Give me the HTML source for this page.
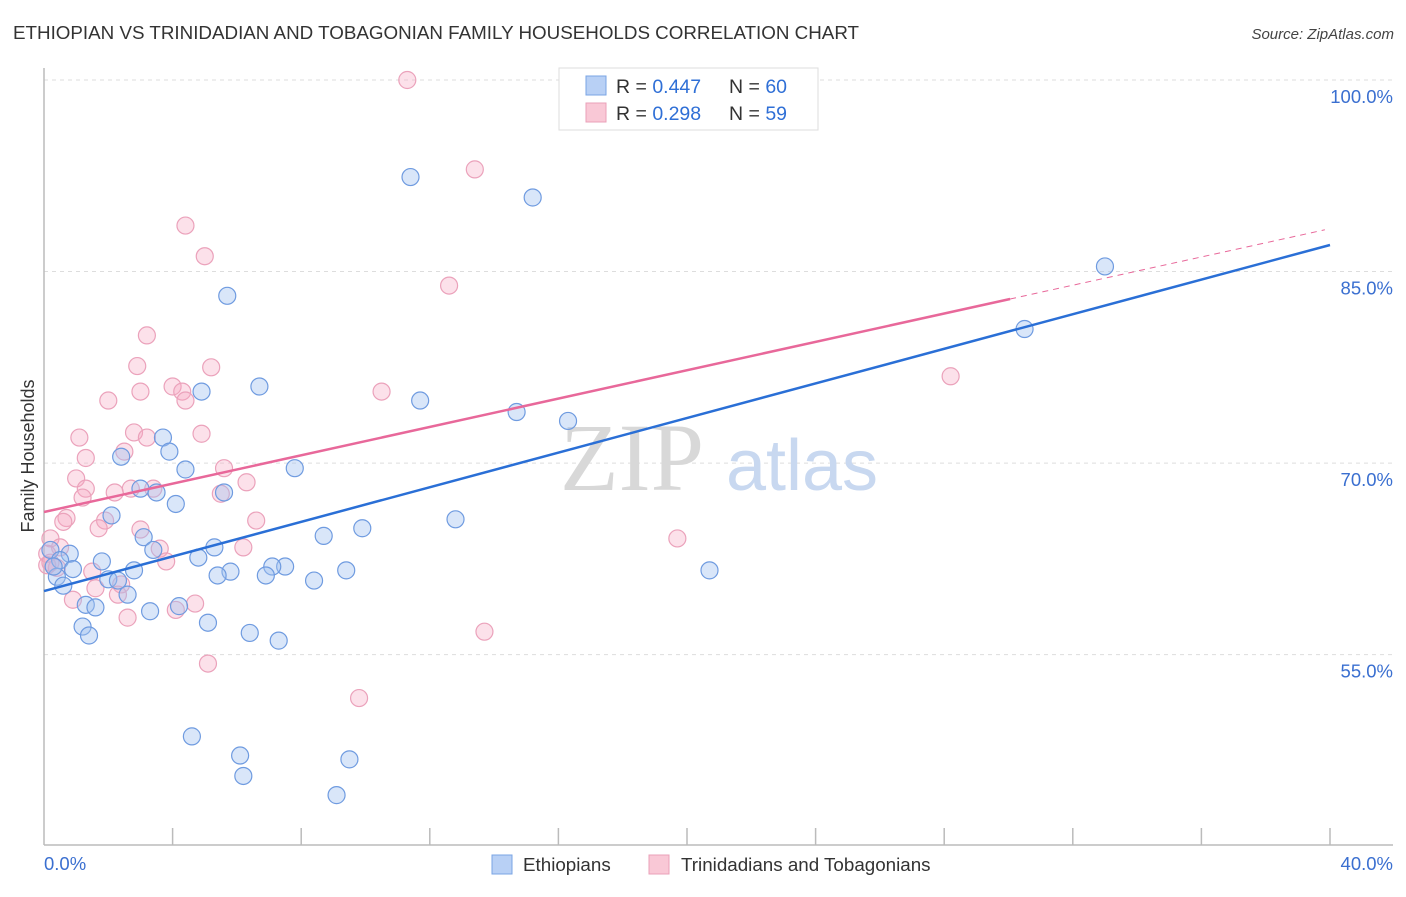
<!DOCTYPE html>
<html><head><meta charset="utf-8"><style>
body{margin:0;background:#fff;font-family:"Liberation Sans",sans-serif}
</style></head><body>
<svg id="chart" width="1406" height="892" xmlns="http://www.w3.org/2000/svg" font-family="Liberation Sans, sans-serif">
<text x="13" y="39" font-size="18.8" fill="#333">ETHIOPIAN VS TRINIDADIAN AND TOBAGONIAN FAMILY HOUSEHOLDS CORRELATION CHART</text>
<text x="1394" y="39" font-size="15" font-style="italic" fill="#444" text-anchor="end">Source: ZipAtlas.com</text>
<g id="grid"></g>
<g><text x="632" y="490" font-size="96" font-family="Liberation Serif, serif" fill="#d8d8d8" text-anchor="middle">ZIP</text><text x="802" y="490" font-size="72" fill="#c8d8f0" text-anchor="middle">atlas</text></g>
<g id="axes"></g>
<g id="pts"></g>
<g id="lines"></g>
<text transform="translate(34,456) rotate(-90)" font-size="18" fill="#333" text-anchor="middle">Family Households</text>
<text x="44" y="870" font-size="18.5" fill="#3a6fd0">0.0%</text>
<text x="1393" y="870" font-size="18.5" fill="#3a6fd0" text-anchor="end">40.0%</text>
<g>
<rect x="559" y="68" width="259" height="62" fill="#fff" stroke="#ddd"/>
<rect x="586" y="76" width="20" height="19" fill="#b8d0f5" stroke="#7aa4e4"/>
<rect x="586" y="103" width="20" height="19" fill="#f9c8d6" stroke="#eaa0b8"/>
<text x="616" y="93" font-size="19.5" fill="#333">R = <tspan fill="#2f6fd6">0.447</tspan></text>
<text x="729" y="93" font-size="19.5" fill="#333">N = <tspan fill="#2f6fd6">60</tspan></text>
<text x="616" y="120" font-size="19.5" fill="#333">R = <tspan fill="#2f6fd6">0.298</tspan></text>
<text x="729" y="120" font-size="19.5" fill="#333">N = <tspan fill="#2f6fd6">59</tspan></text>
</g>
<g>
<rect x="492" y="855" width="20" height="19" fill="#b8d0f5" stroke="#7aa4e4"/>
<text x="523" y="871" font-size="18.8" fill="#333">Ethiopians</text>
<rect x="649" y="855" width="20" height="19" fill="#f9c8d6" stroke="#eaa0b8"/>
<text x="681" y="871" font-size="18.8" fill="#333">Trinidadians and Tobagonians</text>
</g>
</svg>
<script>
const yTicks=[100,85,70,55];
const yTickLabels=["100.0%","85.0%","70.0%","55.0%"];
const blueX=[11.4,15.2,33.0,5.7,30.5,6.7,4.9,11.7,14.7,16.3,3.7,3.9,2.4,4.4,7.8,3.0,3.5,5.6,4.1,2.1,12.8,9.9,8.7,3.1,5.3,3.4,0.8,0.2,4.8,1.8,0.5,7.5,7.1,5.8,9.4,2.8,0.9,6.9,5.4,20.7,8.4,2.0,0.4,0.6,2.3,2.6,1.3,1.6,4.2,3.3,5.1,1.2,1.4,6.4,7.3,4.6,6.1,9.5,6.2,9.1,0.3];
const blueY=[92.4,90.8,85.4,83.1,80.5,76.0,75.6,74.9,74.0,73.3,72.0,70.9,70.5,69.5,69.6,68.0,67.7,67.7,66.8,65.9,65.6,64.9,64.3,64.2,63.4,63.2,62.9,63.2,62.6,62.3,62.4,61.9,61.9,61.5,61.6,61.6,61.7,61.2,61.2,61.6,60.8,60.9,61.1,60.4,60.8,59.7,58.9,58.7,58.8,58.4,57.5,57.2,56.5,56.7,56.1,48.6,47.1,46.8,45.5,44.0,61.9];
const pinkX=[11.3,13.4,4.4,5.0,12.6,3.2,2.9,5.2,4.0,3.0,4.3,10.5,2.0,4.4,28.2,1.1,2.8,3.2,4.9,2.5,1.3,1.0,5.6,1.3,6.3,2.7,2.2,3.4,1.2,5.5,0.7,0.6,1.9,6.6,1.7,3.0,19.7,0.2,6.2,3.6,0.5,0.1,3.8,0.4,1.5,2.4,1.6,2.3,0.9,4.7,4.1,2.6,13.7,5.1,9.8,0.1,0.2];
const pinkY=[100.0,93.0,88.6,86.2,83.9,80.0,77.6,77.5,76.0,75.6,75.6,75.6,74.9,74.9,76.8,72.0,72.4,72.0,72.3,70.9,70.4,68.8,69.6,68.0,68.5,68.0,67.7,68.0,67.3,67.6,65.7,65.4,65.5,65.5,64.9,64.8,64.1,64.1,63.4,63.3,63.4,62.9,62.3,61.8,61.5,60.5,60.2,59.7,59.3,59.0,58.5,57.9,56.8,54.3,51.6,62.0,62.2];
const blueTrend=[[0,59.98],[40,87.08]];
const pinkTrendSolid=[[0,66.17],[30.05,82.85]];
const pinkTrendDash=[[30.05,82.85],[39.84,88.27]];
const NS="http://www.w3.org/2000/svg";
const sx=v=>44+v/40*1286;
const sy=v=>80+(100-v)*12.77;
function mk(tag,attrs,parent){const e=document.createElementNS(NS,tag);for(const k in attrs)e.setAttribute(k,attrs[k]);parent.appendChild(e);return e;}
const grid=document.getElementById('grid');
yTicks.forEach((t,i)=>{
 const l=mk('line',{x1:44,x2:1393,y1:sy(t),y2:sy(t),stroke:'#ddd','stroke-dasharray':'4,4'},grid);
 
 
 const tx=mk('text',{x:1393,y:sy(t)+23,'font-size':18.5,fill:'#3a6fd0','text-anchor':'end'},grid);
 tx.textContent=yTickLabels[i];
 
 
});
const axes=document.getElementById('axes');
mk('line',{x1:44,x2:44,y1:68,y2:845,stroke:'#bbb','stroke-width':1.5},axes);
mk('line',{x1:44,x2:1393,y1:845,y2:845,stroke:'#bbb','stroke-width':1.5},axes);
for(let i=1;i<=10;i++){
 const t=mk('line',{x1:sx(i*4),x2:sx(i*4),y1:828,y2:845,stroke:'#bbb','stroke-width':1.5},axes);
 
 
}
const pts=document.getElementById('pts');
pinkX.forEach((x,i)=>{
 const c=mk('circle',{cx:sx(x),cy:sy(pinkY[i]),r:8.5,fill:'rgba(246,170,195,0.35)',stroke:'#eba2bb','stroke-width':1.2},pts);
 
 
});
blueX.forEach((x,i)=>{
 const c=mk('circle',{cx:sx(x),cy:sy(blueY[i]),r:8.5,fill:'rgba(160,192,240,0.4)',stroke:'#6f9be0','stroke-width':1.2},pts);
 
 
});
const lines=document.getElementById('lines');
const bl=mk('line',{x1:sx(blueTrend[0][0]),y1:sy(blueTrend[0][1]),x2:sx(blueTrend[1][0]),y2:sy(blueTrend[1][1]),stroke:'#2a6fd6','stroke-width':2.5},lines);


const pl=mk('line',{x1:sx(pinkTrendSolid[0][0]),y1:sy(pinkTrendSolid[0][1]),x2:sx(pinkTrendSolid[1][0]),y2:sy(pinkTrendSolid[1][1]),stroke:'#e8689a','stroke-width':2.5},lines);


const pd=mk('line',{x1:sx(pinkTrendDash[0][0]),y1:sy(pinkTrendDash[0][1]),x2:sx(pinkTrendDash[1][0]),y2:sy(pinkTrendDash[1][1]),stroke:'#e8689a','stroke-width':1,'stroke-dasharray':'6,5'},lines);


</script>
</body></html>
